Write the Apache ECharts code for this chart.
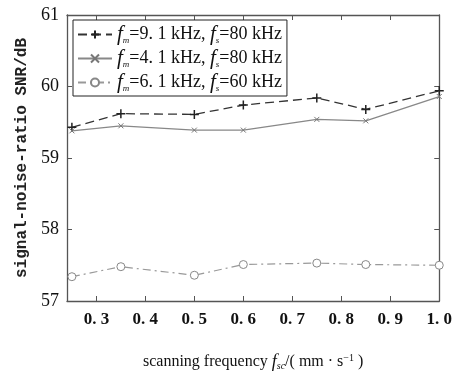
<!DOCTYPE html>
<html>
<head>
<meta charset="utf-8">
<script src="https://cdn.jsdelivr.net/npm/echarts@6/dist/echarts.min.js"></script>
<style>
  html, body { margin: 0; padding: 0; background: #fff; }
  #chart { width: 455px; height: 376px; }
</style>
</head>
<body>
<div id="chart"></div>
<script>
// scanning frequency (mm/s)
const scanFreq = [0.25, 0.35, 0.5, 0.6, 0.75, 0.85, 1.0];
const snrA = [59.43, 59.62, 59.61, 59.74, 59.84, 59.68, 59.94]; // fm=9.1, fs=80
const snrB = [59.38, 59.45, 59.39, 59.39, 59.54, 59.52, 59.86]; // fm=4.1, fs=80
const snrC = [57.34, 57.48, 57.36, 57.51, 57.53, 57.51, 57.50]; // fm=6.1, fs=60
const xTicks = [0.3, 0.4, 0.5, 0.6, 0.7, 0.8, 0.9, 1.0];
const seriesNames = ["A", "B", "C"];
const legendLabels = {
  A: "{f|f}{sub|m}{t|=9. 1 kHz, }{f|f}{sub|s}{t|=80 kHz}",
  B: "{f|f}{sub|m}{t|=4. 1 kHz, }{f|f}{sub|s}{t|=80 kHz}",
  C: "{f|f}{sub|m}{t|=6. 1 kHz, }{f|f}{sub|s}{t|=60 kHz}",
};

const chart = echarts.init(document.getElementById("chart"));
const toPairs = (ys) => scanFreq.map((x, i) => [x, ys[i]]);

const plus = "path://M0,5 L10,5 M5,0 L5,10";
const cross = "path://M0,0 L10,10 M10,0 L0,10";
const serif = "'Liberation Serif', 'DejaVu Serif', serif";
const axisColor = "#555";

const option = {
  backgroundColor: "#fff",
  animation: false,
  grid: { left: 67, right: 12, top: 15, bottom: 75 },
  legend: {
    left: 73, top: 20,
    orient: "vertical",
    itemWidth: 34, itemHeight: 10, itemGap: 3,
    padding: [4, 5, 3, 4],
    borderColor: "#222", borderWidth: 1,
    backgroundColor: "#fff",
    data: seriesNames,
    formatter: (name) => legendLabels[name],
    textStyle: {
      fontFamily: serif, fontSize: 18, color: "#111",
      rich: {
        f: { fontFamily: serif, fontStyle: "italic", fontSize: 21, color: "#111" },
        sub: { fontFamily: serif, fontStyle: "italic", fontSize: 9, color: "#111", verticalAlign: "bottom", padding: [10, 0, 0, 0] },
        t: { fontFamily: serif, fontSize: 18, color: "#111" },
      },
    },
  },
  xAxis: [
    {
      type: "value", min: 0.24, max: 1.0,
      name: "{t|scanning frequency }{f|f}{sub|sc}{t|/( mm · s}{sup|−1}{t| )}",
      nameLocation: "middle", nameGap: 52,
      nameTextStyle: {
        rich: {
          t: { fontFamily: serif, fontSize: 16, color: "#111" },
          f: { fontFamily: serif, fontStyle: "italic", fontSize: 18, color: "#111" },
          sub: { fontFamily: serif, fontStyle: "italic", fontSize: 10, color: "#111", verticalAlign: "bottom", padding: [8, 0, 0, 0] },
          sup: { fontFamily: serif, fontSize: 10, color: "#111", verticalAlign: "top", padding: [0, 0, 6, 0] },
        },
      },
      axisLine: { show: true, onZero: false, lineStyle: { color: axisColor, width: 1.3 } },
      axisTick: { show: true, inside: true, length: 5, customValues: xTicks, lineStyle: { color: axisColor } },
      axisLabel: {
        customValues: xTicks, margin: 10,
        fontFamily: serif, fontSize: 17, color: "#111", fontWeight: "bold",
        formatter: (v) => v.toFixed(1).replace(".", ". "),
      },
      splitLine: { show: false },
    },
    {
      type: "value", min: 0.24, max: 1.0, position: "top",
      axisLine: { show: true, onZero: false, lineStyle: { color: axisColor, width: 1.3 } },
      axisTick: { show: true, inside: true, length: 5, customValues: xTicks, lineStyle: { color: axisColor } },
      axisLabel: { show: false },
      splitLine: { show: false },
    },
  ],
  yAxis: [
    {
      type: "value", min: 57, max: 61, interval: 1,
      name: "signal-noise-ratio SNR/dB",
      nameLocation: "middle", nameGap: 37,
      nameTextStyle: { fontFamily: "'Liberation Mono', 'DejaVu Sans Mono', monospace", fontSize: 16, fontWeight: "bold", color: "#222" },
      axisLine: { show: true, lineStyle: { color: axisColor, width: 1.3 } },
      axisTick: { show: true, inside: true, length: 5, lineStyle: { color: axisColor } },
      axisLabel: { fontFamily: serif, fontSize: 18, color: "#111", margin: 8 },
      splitLine: { show: false },
    },
    {
      type: "value", min: 57, max: 61, interval: 1, position: "right",
      axisLine: { show: true, lineStyle: { color: axisColor, width: 1.3 } },
      axisTick: { show: true, inside: true, length: 5, lineStyle: { color: axisColor } },
      axisLabel: { show: false },
      splitLine: { show: false },
    },
  ],
  series: [
    {
      name: "A", type: "line", data: toPairs(snrA),
      symbol: plus, symbolSize: 9,
      lineStyle: { color: "#333", width: 1.3, type: [9, 5] },
      itemStyle: { color: "none", borderColor: "#222", borderWidth: 1.5 },
    },
    {
      name: "B", type: "line", data: toPairs(snrB),
      symbol: cross, symbolSize: 5,
      lineStyle: { color: "#888", width: 1.3, type: "solid" },
      itemStyle: { color: "none", borderColor: "#777", borderWidth: 1 },
    },
    {
      name: "C", type: "line", data: toPairs(snrC),
      symbol: "circle", symbolSize: 8,
      lineStyle: { color: "#999", width: 1.2, type: [8, 4, 2, 4] },
      itemStyle: { color: "#fff", borderColor: "#888", borderWidth: 1 },
    },
  ],
};
chart.setOption(option);
</script>
</body>
</html>
